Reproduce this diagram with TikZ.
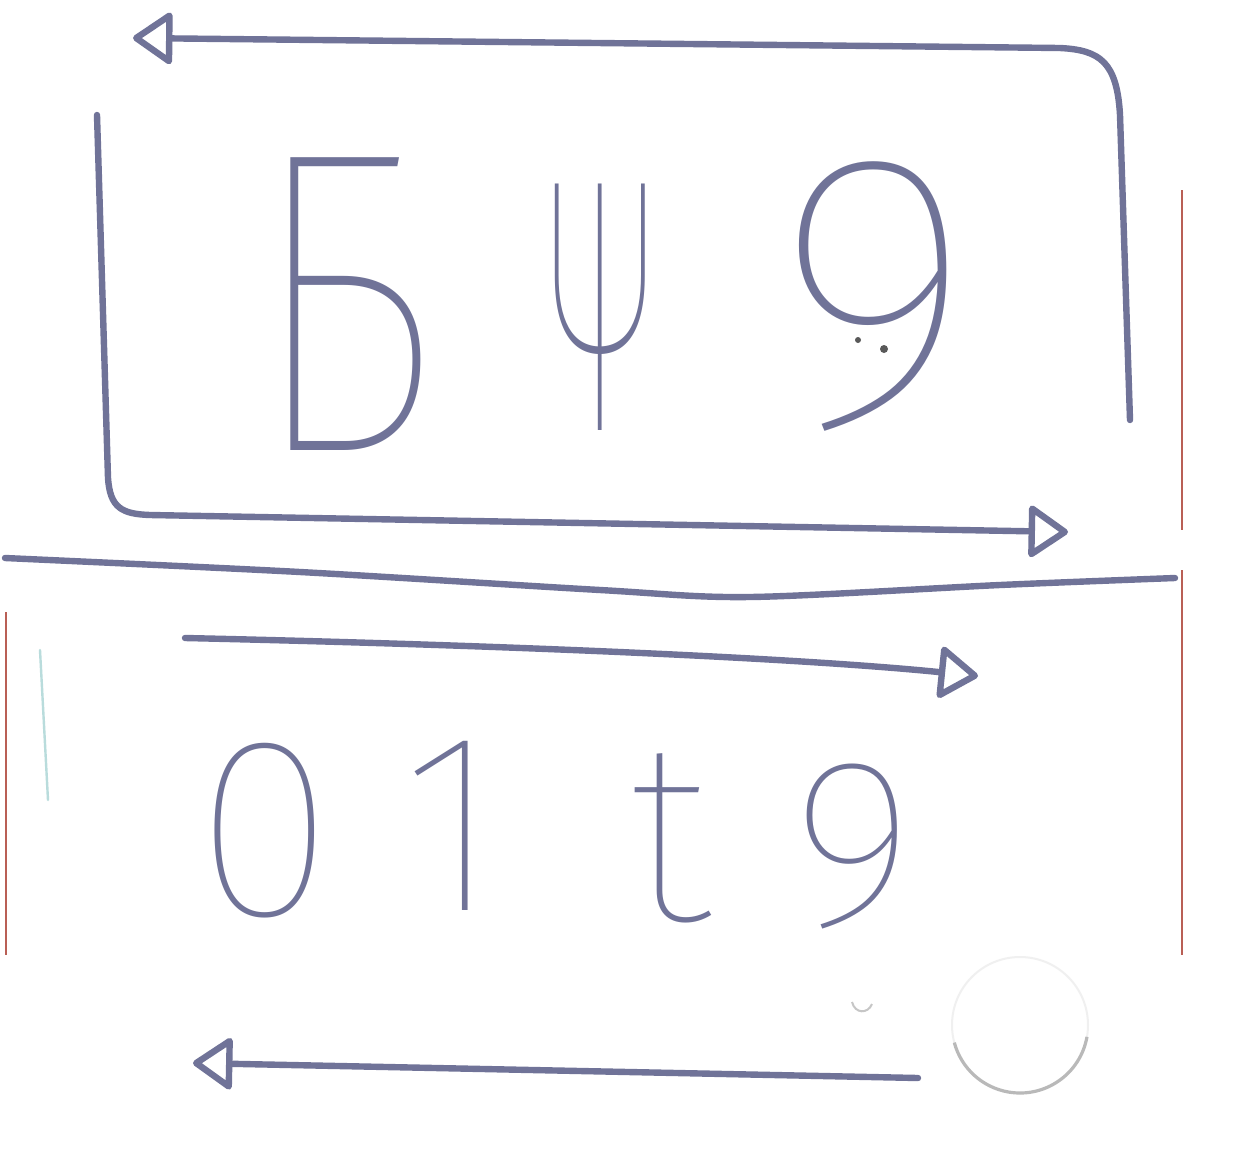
\documentclass[tikz,border=0pt]{standalone}
\usepackage{graphicx}
\usepackage{fontspec}
\IfFontExistsTF{FiraSans-Thin.otf}{\newfontfamily\hand{FiraSans-Thin.otf}}{%
 \IfFontExistsTF{Fira Sans Thin}{\newfontfamily\hand{Fira Sans Thin}}{%
  \IfFontExistsTF{DejaVuSans-ExtraLight.ttf}{\newfontfamily\hand{DejaVuSans-ExtraLight.ttf}}{%
   \IfFontExistsTF{DejaVu Sans ExtraLight}{\newfontfamily\hand{DejaVu Sans ExtraLight}}{%
    \IfFontExistsTF{FiraSans-Light.otf}{\newfontfamily\hand{FiraSans-Light.otf}}{%
     \IfFontExistsTF{Fira Sans Light}{\newfontfamily\hand{Fira Sans Light}}{%
      \newfontfamily\hand{DejaVu Sans}}}}}}}
\usetikzlibrary{arrows.meta}
\definecolor{pen}{RGB}{112,115,152}
\definecolor{redline}{RGB}{185,95,85}
\definecolor{tealfaint}{RGB}{185,220,220}
\begin{document}
\begin{tikzpicture}[x=0.5pt,y=-0.5pt,
  penline/.style={draw=pen,line width=3.2pt,line cap=round,line join=round},
  tipped/.style={-{Triangle[open,length=21pt,width=28pt,line join=round]}},
  glyph/.style={text=pen,inner sep=0pt,anchor=base,font=\hand},
  margin/.style={draw=redline,line width=0.8pt}]
\useasboundingbox (0,0) rectangle (1238,1163);
\fill[white] (0,0) rectangle (1238,1163);

% faint margin lines
\draw[margin] (1182,190) -- (1182,530);
\draw[margin] (1182,570) -- (1182,955);
\draw[margin] (6,612) -- (6,955);
\draw[tealfaint,line width=1.2pt,line cap=round] (40,650) -- (48,800);

% top glyphs
\node[glyph,font=\hand\fontsize{215}{215}\selectfont] (b) at (345,450) {\scalebox{0.8}[1]{Б}};
\node[glyph,font=\hand\fontsize{181}{181}\selectfont] (psi) at (600,430) {\scalebox{0.45}[1]{Ψ}};
\node[glyph,font=\hand\fontsize{196}{196}\selectfont] (nine1) at (875,425) {9};

% bottom glyphs
\node[glyph,font=\hand\fontsize{128}{128}\selectfont] (zero) at (265,915) {0};
\node[glyph,font=\hand\fontsize{128}{128}\selectfont] (one) at (452,910) {1};
\node[glyph,font=\hand\fontsize{128}{128}\selectfont] (t) at (670,920) {t};
\node[glyph,font=\hand\fontsize{120}{120}\selectfont] (nine2) at (853,925) {9};

% top loop arrow (up the right, then left)
\coordinate (a1s) at (1130,420);
\coordinate (a1e) at (133,38);
\draw[penline,tipped] (a1s) -- (1120,115) .. controls (1117,62) and (1100,50) .. (1060,48) -- (a1e);

% left-bottom loop arrow (down the left, then right)
\coordinate (a2s) at (97,115);
\coordinate (a2e) at (1068,532);
\draw[penline,tipped] (a2s) -- (108,478) .. controls (110,508) and (122,514) .. (150,515) -- (a2e);

% divider
\draw[penline] plot[smooth] coordinates {(5,558) (300,572) (600,590) (750,597) (1000,585) (1175,578)};

% middle arrow to the right
\coordinate (a3s) at (185,638);
\coordinate (a3e) at (978,676);
\draw[penline,tipped] (a3s) .. controls (500,645) and (800,658) .. (a3e);

% bottom arrow to the left
\coordinate (a4s) at (918,1078);
\coordinate (a4e) at (193,1063);
\draw[penline,tipped] (a4s) -- (a4e);

% faint circle lower right
\draw[gray!12,line width=1pt] (1020,1025) circle[radius=68];
\draw[gray!55,line width=1.6pt] (1020,1025) ++(10:68) arc[start angle=10,end angle=165,radius=68];

% small smudges
\draw[gray!45,line width=1pt] (852,1002) .. controls (855,1014) and (868,1014) .. (872,1004);
\fill[gray!70!black] (858,340) circle[radius=3];
\fill[gray!70!black] (884,349) circle[radius=4];
\end{tikzpicture}
\end{document}
